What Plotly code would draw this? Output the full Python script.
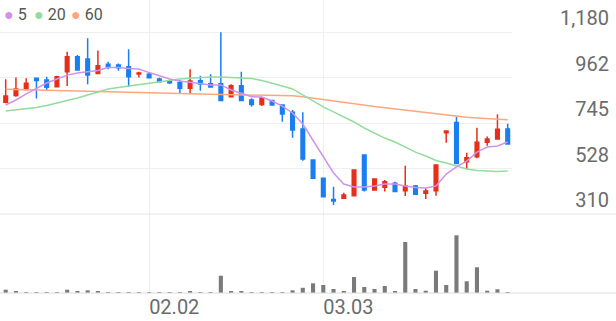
import plotly.graph_objects as go

dates = ["01.13", "01.14", "01.15", "01.16", "01.19", "01.20", "01.21", "01.22", "01.23", "01.26",
         "01.27", "01.28", "01.29", "01.30", "02.02", "02.03", "02.04", "02.05", "02.06", "02.09",
         "02.10", "02.11", "02.12", "02.13", "02.19", "02.20", "02.23", "02.24", "02.25", "02.26",
         "02.27", "03.03", "03.04", "03.05", "03.06", "03.09", "03.10", "03.11", "03.12", "03.13",
         "03.16", "03.17", "03.18", "03.19", "03.20", "03.23", "03.24", "03.25", "03.26", "03.27"]

opens = [844, 876, 905, 959, 950, 918, 990, 1062, 1051, 982, 1026, 1022, 1014, 979, 978, 955, 946, 939,
         911, 947, 933, 933, 871, 923, 855, 833, 853, 831, 796, 716, 568, 481, 379, 385, 397, 592, 425,
         438, 457, 421, 444, 409, 421, 699, 748, 560, 584, 653, 668, 716]
highs = [954, 962, 959, 960, 966, 971, 1086, 1070, 1150, 1091, 1038, 1030, 1097, 990, 984, 961, 948, 950,
         1002, 971, 978, 1179, 930, 990, 863, 871, 855, 833, 807, 796, 569, 482, 440, 412, 523, 595, 480,
         472, 464, 541, 449, 433, 548, 707, 775, 603, 722, 680, 787, 742]
lows = [840, 871, 903, 862, 903, 916, 922, 996, 930, 979, 1002, 995, 918, 962, 960, 939, 931, 884,
        882, 899, 914, 851, 868, 850, 823, 826, 829, 751, 675, 565, 480, 391, 353, 382, 396, 417, 422,
        417, 415, 396, 401, 382, 397, 651, 548, 525, 576, 636, 667, 642]
closes = [874, 907, 935, 948, 916, 966, 1062, 998, 974, 1019, 1014, 1009, 966, 984, 961, 942, 938, 911,
          946, 931, 917, 853, 923, 853, 834, 864, 831, 788, 711, 573, 481, 393, 372, 401, 520, 425, 477,
          464, 417, 444, 404, 420, 544, 707, 552, 579, 653, 668, 715, 645]

ma5 = [831, 855, 884, 912, 936, 955, 974, 984, 991, 996, 1010, 1010, 1006, 1003, 986, 970, 955, 946,
       940, 935, 927, 927, 903, 887, 871, 869, 850, 826, 793, 740, 664, 583, 506, 453, 439, 439, 444,
       453, 453, 444, 437, 434, 444, 501, 535, 563, 606, 630, 635, 654]
ma20 = [802, 807, 812, 819, 829, 841, 850, 865, 879, 893, 908, 915, 922, 929, 936, 943, 951, 955,
        959, 963, 965, 965, 963, 961, 958, 948, 936, 922, 908, 879, 850, 822, 798, 774, 750, 721, 697,
        673, 654, 630, 606, 587, 566, 554, 539, 525, 518, 514, 513, 516]
ma60 = [906, 905, 904, 903, 902, 901, 900, 899, 898, 897, 896, 894, 893, 891, 890, 888, 887, 886,
        885, 884, 882, 881, 880, 880, 879, 878, 877, 876, 875, 870, 863, 856, 849, 843, 836, 830, 824,
        818, 812, 806, 800, 794, 788, 782, 777, 772, 769, 766, 763, 761]

volume = [33000, 17000, 10000, 7000, 7000, 7000, 33000, 17000, 27000, 17000, 7000, 4000, 4000, 4000,
          4000, 4000, 4000, 6000, 13000, 10000, 10000, 173000, 20000, 15000, 10000, 7000, 7000, 7000,
          27000, 52000, 97000, 80000, 40000, 17000, 160000, 60000, 40000, 70000, 17000, 510000, 40000,
          23000, 223000, 80000, 577000, 117000, 257000, 23000, 37000, 7000]

x_ticks = ["02.02", "03.03"]
y_ticks = [310, 527.5, 745, 962.5, 1180]
y_tick_text = ["310", "528", "745", "962", "1,180"]

ma_labels = ["5", "20", "60"]
ma_colors = ["#cf93ec", "#93dc9d", "#ffa67f"]

RED = "#e62e1a"
BLUE = "#1a7ef2"
GRID = "#efefef"
TXT = "#6b6b6b"

W, H = 616, 321
PLOT_H = 293
price_bottom = (PLOT_H - 214) / PLOT_H
x_dom_end = 512 / W

fig = go.Figure()

for vals, col in zip([ma60, ma20, ma5], [ma_colors[2], ma_colors[1], ma_colors[0]]):
    fig.add_trace(go.Scatter(x=dates, y=vals, mode="lines", line=dict(color=col, width=1.5),
                             xaxis="x", yaxis="y", showlegend=False, hoverinfo="skip"))

fig.add_trace(go.Candlestick(
    x=dates, open=opens, high=highs, low=lows, close=closes,
    increasing=dict(line=dict(color=RED, width=1.5), fillcolor=RED),
    decreasing=dict(line=dict(color=BLUE, width=1.5), fillcolor=BLUE),
    whiskerwidth=0, xaxis="x", yaxis="y", showlegend=False))

fig.add_trace(go.Bar(x=dates, y=volume, marker=dict(color="#7a7a7a", line=dict(width=0)), width=0.4,
                     xaxis="x2", yaxis="y2", showlegend=False))

fig.add_trace(go.Scatter(x=[0], y=[None], xaxis="x3", yaxis="y3", showlegend=False, hoverinfo="skip"))

common_x = dict(type="category", range=[-0.556, 49.42], tickvals=x_ticks, showgrid=True,
                gridcolor=GRID, gridwidth=1, zeroline=False, showline=False, ticks="",
                domain=[0, x_dom_end], fixedrange=True)

fig.update_layout(
    width=W, height=H,
    margin=dict(l=0, r=0, t=0, b=H - PLOT_H),
    paper_bgcolor="white", plot_bgcolor="rgba(0,0,0,0)",
    font=dict(family="Roboto", color=TXT),
    showlegend=False,
    bargap=0.6,
    boxgap=0.5,
    xaxis=dict(common_x, anchor="y", showticklabels=False, rangeslider=dict(visible=False)),
    yaxis=dict(domain=[price_bottom, 1], range=[310, 1333], tickvals=y_ticks, showticklabels=False,
               showgrid=True, gridcolor=GRID, zeroline=False, anchor="x", fixedrange=True),
    xaxis2=dict(common_x, anchor="y2", ticktext=x_ticks, showticklabels=True,
                ticklabelposition="outside right", tickfont=dict(size=20, color=TXT)),
    yaxis2=dict(domain=[0, price_bottom], range=[0, 790000], showticklabels=False, showgrid=False,
                zeroline=False, anchor="x2", fixedrange=True),
    xaxis3=dict(domain=[0, 612 / W], anchor="y3", range=[0, 1], visible=False),
    yaxis3=dict(domain=[price_bottom, 1], range=[310, 1333], anchor="x3", side="right",
                tickvals=y_ticks, ticktext=y_tick_text, ticklabelposition="inside",
                ticklabelshift=-14, showgrid=False, zeroline=False, ticks="", showline=False,
                tickfont=dict(size=20, color=TXT), fixedrange=True),
    shapes=[
        dict(type="line", xref="paper", yref="paper", x0=0, x1=1, y0=price_bottom, y1=price_bottom,
             line=dict(color="#e4e4e4", width=1)),
        dict(type="line", xref="paper", yref="paper", x0=0, x1=1, y0=0, y1=0,
             line=dict(color="#dcdcdc", width=1)),
    ],
)

leg_x = [2, 32, 69]
for lab, col, lx in zip(ma_labels, ma_colors, leg_x):
    fig.add_annotation(xref="paper", yref="paper", x=lx / W, y=(PLOT_H - 15) / PLOT_H,
                       xanchor="left", yanchor="middle", showarrow=False,
                       text=f"<span style='color:{col}'>●</span> {lab}",
                       font=dict(size=16, color="#555555", family="Roboto"))

fig.write_html("out.html")
